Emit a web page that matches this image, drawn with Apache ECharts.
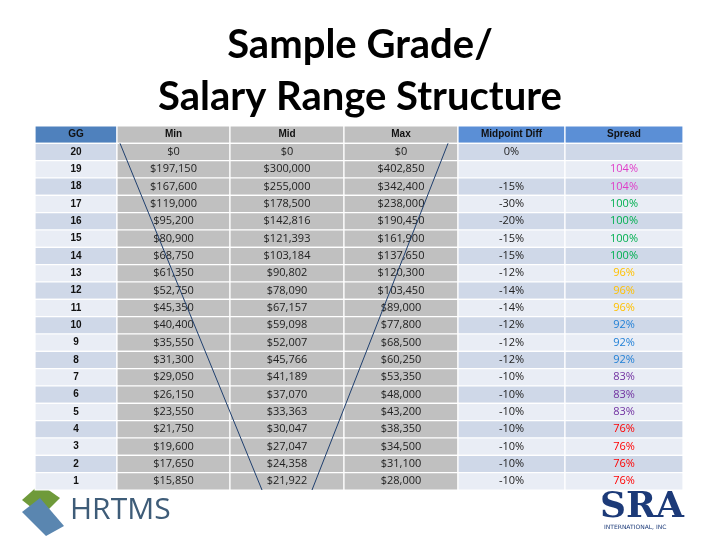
<!DOCTYPE html>
<html><head><meta charset="utf-8">
<script src="https://cdn.jsdelivr.net/npm/echarts@6/dist/echarts.min.js"></script>
<style>html,body{margin:0;padding:0;background:#fff}#c{width:720px;height:540px}</style>
</head><body><div id="c"></div>
<script>
const headers = ['GG','Min','Mid','Max','Midpoint Diff','Spread'];
const grades = [20,19,18,17,16,15,14,13,12,11,10,9,8,7,6,5,4,3,2,1];
const minVals = [0,197150,167600,119000,95200,80900,68750,61350,52750,45350,40400,35550,31300,29050,26150,23550,21750,19600,17650,15850];
const midVals = [0,300000,255000,178500,142816,121393,103184,90802,78090,67157,59098,52007,45766,41189,37070,33363,30047,27047,24358,21922];
const maxVals = [0,402850,342400,238000,190450,161900,137650,120300,103450,89000,77800,68500,60250,53350,48000,43200,38350,34500,31100,28000];
const midDiff = [0,null,-15,-30,-20,-15,-15,-12,-14,-14,-12,-12,-12,-10,-10,-10,-10,-10,-10,-10];
const spread = [null,104,104,100,100,100,100,96,96,96,92,92,92,83,83,83,76,76,76,76];

// layout (column edges on the x value axis)
const colEdges = [0,82,195,309,423,530,648];
const spreadColor = {104:'#e03cc8',100:'#00b050',96:'#ffc000',92:'#1f7fd6',83:'#7030a0',76:'#ff0000'};

const money = v => '$' + v.toLocaleString('en-US');
const cells = [];
headers.forEach((h,c)=>{
  const bg = c===0 ? '#4f81bd' : (c<4 ? '#bfbfbf' : '#5b8fd6');
  cells.push([colEdges[c],colEdges[c+1],0,h,bg,'#111',1]);
});
grades.forEach((g,i)=>{
  const r = i+1;
  const alt = i%2===0 ? '#cfd8e8' : '#e9edf5';
  cells.push([colEdges[0],colEdges[1],r,String(g),alt,'#111',1]);
  cells.push([colEdges[1],colEdges[2],r,money(minVals[i]),'#c0c0c0','#222',0]);
  cells.push([colEdges[2],colEdges[3],r,money(midVals[i]),'#c0c0c0','#222',0]);
  cells.push([colEdges[3],colEdges[4],r,money(maxVals[i]),'#c0c0c0','#222',0]);
  cells.push([colEdges[4],colEdges[5],r,midDiff[i]===null?'':midDiff[i]+'%',alt,'#222',0]);
  cells.push([colEdges[5],colEdges[6],r,spread[i]===null?'':spread[i]+'%',alt,spread[i]?spreadColor[spread[i]]:'#222',0]);
});
const leftLine = [[85,1],[227,21]];
const rightLine = [[413,1],[277,21]];

const chart = echarts.init(document.getElementById('c'));
chart.setOption({
  backgroundColor:'#fff',
  title:{text:'Sample Grade/\nSalary Range Structure',left:'center',top:14,
    textStyle:{fontFamily:'Lato',fontWeight:'bold',fontSize:40,lineHeight:52,color:'#000'}},
  grid:{left:35,right:37,top:126,bottom:50},
  xAxis:{type:'value',min:0,max:648,show:false},
  yAxis:{type:'value',min:0,max:21,inverse:true,show:false},
  graphic:[
    {type:'text',left:70,top:495,style:{text:'HRTMS',font:'30px "Open Sans"',fill:'#3e5c78'}},
    {type:'polygon',shape:{points:[[22,500],[40,484],[60,498],[42,516]]},style:{fill:'#6f9a3a'}},
    {type:'polygon',shape:{points:[[22,512],[40,498],[64,526],[46,536]]},style:{fill:'#5a86b0'}},
    {type:'text',left:600,top:490,style:{text:'SRA',font:'bold 36px "DejaVu Serif"',fill:'#1c3a78'}},
    {type:'text',left:604,top:524,style:{text:'INTERNATIONAL, INC',font:'6px "DejaVu Sans"',fill:'#1c3a78'}}
  ],
  series:[{
    type:'custom',
    data:cells,
    renderItem:(params,api)=>{
      const p0 = api.coord([api.value(0),api.value(2)]);
      const p1 = api.coord([api.value(1),api.value(2)+1]);
      const d = cells[params.dataIndex];
      return {type:'group',children:[
        {type:'rect',shape:{x:p0[0],y:p0[1],width:p1[0]-p0[0],height:p1[1]-p0[1]},
          style:{fill:d[4],stroke:'#fff',lineWidth:1.2}},
        {type:'text',style:{text:d[3],x:(p0[0]+p1[0])/2,y:(p0[1]+p1[1])/2,align:'center',verticalAlign:'middle',
          fill:d[5],font:(d[6]?'bold 10px "Liberation Sans"':'11px "Open Sans"')}}
      ]};
    }
  },{
    type:'line',data:leftLine,symbol:'none',lineStyle:{color:'#1f3f6e',width:1},z:5
  },{
    type:'line',data:rightLine,symbol:'none',lineStyle:{color:'#1f3f6e',width:1},z:5
  }]
});
</script></body></html>
